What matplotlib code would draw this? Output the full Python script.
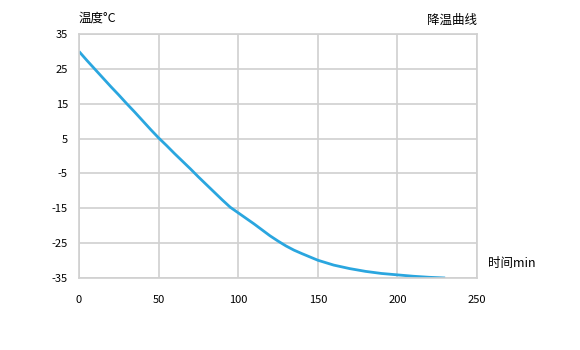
import matplotlib
matplotlib.use("Agg")
import matplotlib.pyplot as plt

plt.rcParams["font.family"] = ["Noto Sans CJK SC", "DejaVu Sans"]
plt.rcParams["axes.unicode_minus"] = False

# --- Data ---------------------------------------------------------------------
time_min = [0, 5, 10, 15, 20, 25, 30, 35, 40, 45, 50, 55, 60, 65, 70, 75, 80,
            85, 90, 95, 100, 105, 110, 115, 120, 125, 130, 135, 140, 150, 160,
            170, 180, 190, 200, 210, 220, 230]
temp_c = [30, 27.4, 24.9, 22.4, 19.9, 17.5, 15.0, 12.6, 10.1, 7.6, 5.2, 3.0,
          0.7, -1.5, -3.7, -6.0, -8.2, -10.4, -12.6, -14.7, -16.3, -17.9,
          -19.5, -21.2, -22.9, -24.4, -25.8, -27.0, -28.0, -29.9, -31.3,
          -32.3, -33.1, -33.7, -34.1, -34.5, -34.8, -35.0]
x_ticks = [0, 50, 100, 150, 200, 250]
y_ticks = [35, 25, 15, 5, -5, -15, -25, -35]

# --- Plot ---------------------------------------------------------------------
fig = plt.figure(figsize=(5.8, 3.5), dpi=100)
ax = fig.add_axes([79 / 580, 1 - 278 / 350, 398 / 580, 244 / 350])

ax.plot(time_min, temp_c, color="#2AA6DF", linewidth=2.0, solid_capstyle="butt")

ax.set_xlim(0, 250)
ax.set_ylim(-35, 35)
ax.set_xticks(x_ticks)
ax.set_yticks(y_ticks)
ax.grid(True, color="#d0d0d0", linewidth=1.2)
ax.set_axisbelow(True)
for sp in ax.spines.values():
    sp.set_color("#d0d0d0")
    sp.set_linewidth(1.2)
ax.tick_params(length=0, labelsize=8, colors="black")
ax.tick_params(axis="x", pad=12)
ax.tick_params(axis="y", pad=8)

fig.text(79 / 580, 1 - 18 / 350, "温度°C", fontsize=9, ha="left", va="center")
fig.text(477 / 580, 1 - 20 / 350, "降温曲线", fontsize=9, ha="right", va="center")
fig.text(488 / 580, 1 - 263 / 350, "时间min", fontsize=9, ha="left", va="center")

fig.savefig("out.png", dpi=100)
plt.close(fig)
